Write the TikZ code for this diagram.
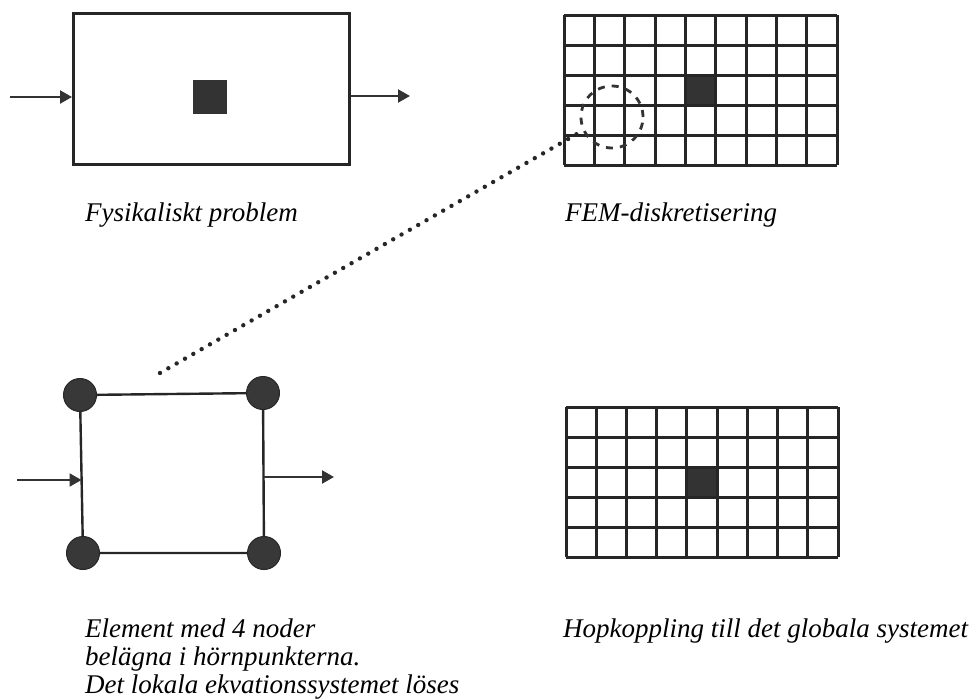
\documentclass[tikz,border=0pt]{standalone}
\usepackage{fontspec}
\setmainfont{Liberation Serif}
\usetikzlibrary{arrows.meta}
\begin{document}
\begin{tikzpicture}[x=1pt,y=-1pt,
  frame/.style={draw=black!85,line width=2.8pt},
  gridline/.style={draw=black!85,line width=3pt},
  blk/.style={fill=black!80},
  flow/.style={draw=black!80,line width=2.2pt,-{Triangle[length=12pt,width=13pt]}},
  knot/.style={circle,fill=black!78,draw=black!85,line width=1pt,minimum size=33pt,inner sep=0pt},
  caption/.style={anchor=base west,inner sep=0pt,font=\fontsize{27}{28}\selectfont\itshape}]
\useasboundingbox (0,0) rectangle (975,699);

% physical problem: domain with an inclusion
\node[frame,rectangle,minimum width=276pt,minimum height=151pt,anchor=north west,inner sep=0pt] (dom) at (72,12) {};
\node[blk,minimum size=34pt,inner sep=0pt] (incl) at (210,97) {};
\coordinate (inA) at (10,97);
\draw[flow] (inA) -- (dom.west |- inA);
\coordinate (outA) at (410,96);
\draw[flow] (dom.east |- outA) -- (outA);
\node[caption] (capA) at (85,221) {Fysikaliskt problem};

% FEM mesh, 9 x 5 elements
\node[rectangle,minimum width=273pt,minimum height=150pt,anchor=north west,inner sep=0pt] (meshA) at (564,15) {};
\fill[black!80] (564+4*30.333,15+2*30) rectangle (564+5*30.333,15+3*30);
\foreach \i in {0,...,9} \draw[gridline] (564+\i*30.333,15) -- (564+\i*30.333,165);
\foreach \j in {0,...,5} \draw[gridline] (564,15+\j*30) -- (837,15+\j*30);
\node[circle,draw=black!80,dash pattern=on 7pt off 7pt,line width=2.8pt,minimum size=62pt,inner sep=0pt] (zoomc) at (612,117) {};
\node[caption] (capB) at (565,221) {FEM-diskretisering};

% single element with four corner nodes
\coordinate (c1) at (80,395);
\coordinate (c2) at (263,393);
\coordinate (c3) at (83,553);
\coordinate (c4) at (264,553);
\draw[frame,line width=2.4pt] (c1) -- (c2) -- (c4) -- (c3) -- cycle;
\node[knot] (n1) at (c1) {};
\node[knot] (n2) at (c2) {};
\node[knot] (n3) at (c3) {};
\node[knot] (n4) at (c4) {};
\coordinate (inB) at (17,480);
\coordinate (edgeL) at (81.5,480);
\draw[flow] (inB) -- (edgeL);
\coordinate (edgeR) at (263.6,477);
\coordinate (outB) at (334,477);
\draw[flow] (edgeR) -- (outB);

% dotted link from the marked element to the enlarged element
\coordinate (linkS) at (160,373);
\draw[black!85,line width=4.4pt,line cap=round,dash pattern=on 0pt off 9.6pt] (linkS) -- (zoomc.205);

\node[caption] (capC1) at (85,637) {Element med 4 noder};
\node[caption] (capC2) at (85,665) {belägna i hörnpunkterna.};
\node[caption] (capC3) at (85,693) {Det lokala ekvationssystemet löses};

% assembled global mesh
\node[rectangle,minimum width=272pt,minimum height=150pt,anchor=north west,inner sep=0pt] (meshB) at (566,407) {};
\fill[black!80] (566+4*30.222,407+2*30) rectangle (566+5*30.222,407+3*30);
\foreach \i in {0,...,9} \draw[gridline] (566+\i*30.222,407) -- (566+\i*30.222,557);
\foreach \j in {0,...,5} \draw[gridline] (566,407+\j*30) -- (838,407+\j*30);
\node[caption] (capD) at (563,637) {Hopkoppling till det globala systemet};
\end{tikzpicture}
\end{document}
